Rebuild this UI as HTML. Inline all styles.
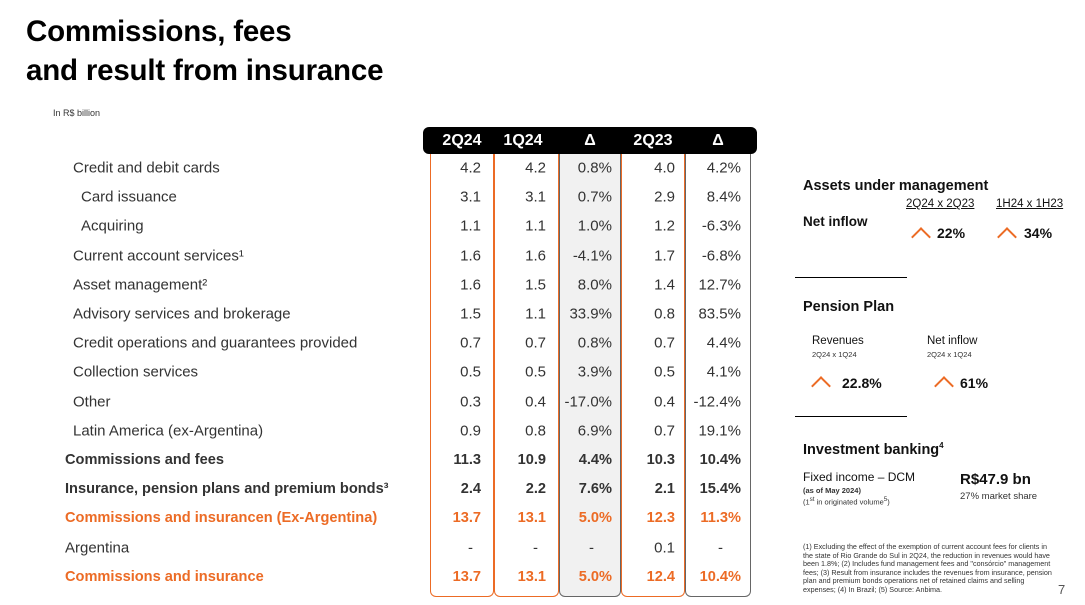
<!DOCTYPE html>
<html><head><meta charset="utf-8">
<style>
body{margin:0;width:1085px;height:605px;background:#fff;position:relative;overflow:hidden;font-family:"Liberation Sans",sans-serif;color:#333}
.a{position:absolute;white-space:nowrap}
.title{left:26px;font-size:29.5px;font-weight:bold;color:#000;letter-spacing:-0.2px;line-height:1}
.lbl{font-size:15px;transform:translateY(-50%)}
.v{font-size:15px;text-align:right;transform:translateY(-50%)}
.b{font-weight:bold;font-size:14.6px}
.o{color:#ec6b25}
.hdr{left:423px;top:127px;width:334px;height:27px;background:#000;border-radius:6px}
.h{color:#fff;font-weight:bold;font-size:16px;top:132px;text-align:center}
.box{position:absolute;top:154px;height:443px;box-sizing:border-box;border-radius:0 0 6px 6px}
.up{position:absolute;width:12px;height:12px;border-left:2px solid #ec6b25;border-top:2px solid #ec6b25;transform:rotate(45deg)}
</style></head><body>
<div class="a title" style="top:17px">Commissions, fees</div>
<div class="a title" style="top:56px">and result from insurance</div>
<div class="a" style="left:53px;top:108px;font-size:9px">In R$ billion</div>

<div class="box" style="left:430px;width:64px;border:1.5px solid #ec6b25;border-top:none"></div>
<div class="box" style="left:494px;width:65px;border:1.5px solid #ec6b25;border-top:none"></div>
<div class="box" style="left:559px;width:62px;border:1.5px solid #666;border-top:none;background:#f1f1f1"></div>
<div class="box" style="left:621px;width:64px;border:1.5px solid #ec6b25;border-top:none"></div>
<div class="box" style="left:685px;width:66px;border:1.5px solid #666;border-top:none"></div>
<div class="a hdr"></div>
<div class="a h" style="left:430px;width:64px">2Q24</div>
<div class="a h" style="left:494px;width:58px">1Q24</div>
<div class="a h" style="left:559px;width:62px">Δ</div>
<div class="a h" style="left:621px;width:64px">2Q23</div>
<div class="a h" style="left:685px;width:66px">Δ</div>
<div id="rows"></div>

<div class="a" style="left:803px;top:178px;font-size:14.5px;font-weight:bold;color:#111">Assets under management</div>
<div class="a" style="left:906px;top:198px;font-size:11.5px;text-decoration:underline;color:#111">2Q24 x 2Q23</div>
<div class="a" style="left:996px;top:198px;font-size:11.5px;text-decoration:underline;color:#111">1H24 x 1H23</div>
<div class="a" style="left:803px;top:214px;font-size:13.5px;font-weight:bold;color:#111">Net inflow</div>
<div class="up" style="left:914px;top:230px"></div>
<div class="a" style="left:937px;top:225px;font-size:14px;font-weight:bold;color:#111">22%</div>
<div class="up" style="left:1000px;top:230px"></div>
<div class="a" style="left:1024px;top:225px;font-size:14px;font-weight:bold;color:#111">34%</div>
<div class="a" style="left:795px;top:277px;width:112px;height:1px;background:#000"></div>

<div class="a" style="left:803px;top:299px;font-size:14.5px;font-weight:bold;color:#111">Pension Plan</div>
<div class="a" style="left:812px;top:335px;font-size:11.5px;color:#111">Revenues</div>
<div class="a" style="left:812px;top:350px;font-size:7.5px">2Q24 x 1Q24</div>
<div class="a" style="left:927px;top:335px;font-size:11.5px;color:#111">Net inflow</div>
<div class="a" style="left:927px;top:350px;font-size:7.5px">2Q24 x 1Q24</div>
<div class="up" style="left:814px;top:379px"></div>
<div class="a" style="left:842px;top:375px;font-size:14px;font-weight:bold;color:#111">22.8%</div>
<div class="up" style="left:937px;top:379px"></div>
<div class="a" style="left:960px;top:375px;font-size:14px;font-weight:bold;color:#111">61%</div>
<div class="a" style="left:795px;top:416px;width:112px;height:1px;background:#000"></div>

<div class="a" style="left:803px;top:441px;font-size:14.5px;font-weight:bold;color:#111">Investment banking<sup style="font-size:8px">4</sup></div>
<div class="a" style="left:803px;top:470px;font-size:12px;color:#111">Fixed income – DCM</div>
<div class="a" style="left:803px;top:486px;font-size:7.5px;font-weight:bold">(as of May 2024)</div>
<div class="a" style="left:803px;top:496px;font-size:7.5px">(1<sup>st</sup> in originated volume<sup>5</sup>)</div>
<div class="a" style="left:960px;top:471px;font-size:15px;font-weight:bold;color:#111">R$47.9 bn</div>
<div class="a" style="left:960px;top:491px;font-size:9.5px">27% market share</div>
<div class="a" style="left:803px;top:543px;font-size:7.2px;line-height:8.6px;white-space:normal;width:250px">(1) Excluding the effect of the exemption of current account fees for clients in the state of Rio Grande do Sul in 2Q24, the reduction in revenues would have been 1.8%; (2) Includes fund management fees and "consórcio" management fees; (3) Result from insurance includes the revenues from insurance, pension plan and premium bonds operations net of retained claims and selling expenses; (4) In Brazil; (5) Source: Anbima.</div>
<div class="a" style="left:1058px;top:582px;font-size:13px;color:#555">7</div>

<script>
const labels=["Credit and debit cards","Card issuance","Acquiring","Current account services¹","Asset management²","Advisory services and brokerage","Credit operations and guarantees provided","Collection services","Other","Latin America (ex-Argentina)","Commissions and fees","Insurance, pension plans and premium bonds³","Commissions and insurancen (Ex-Argentina)","Argentina","Commissions and insurance"];
const v2Q24=["4.2","3.1","1.1","1.6","1.6","1.5","0.7","0.5","0.3","0.9","11.3","2.4","13.7","-","13.7"];
const v1Q24=["4.2","3.1","1.1","1.6","1.5","1.1","0.7","0.5","0.4","0.8","10.9","2.2","13.1","-","13.1"];
const dQ=["0.8%","0.7%","1.0%","-4.1%","8.0%","33.9%","0.8%","3.9%","-17.0%","6.9%","4.4%","7.6%","5.0%","-","5.0%"];
const v2Q23=["4.0","2.9","1.2","1.7","1.4","0.8","0.7","0.5","0.4","0.7","10.3","2.1","12.3","0.1","12.4"];
const dY=["4.2%","8.4%","-6.3%","-6.8%","12.7%","83.5%","4.4%","4.1%","-12.4%","19.1%","10.4%","15.4%","11.3%","-","10.4%"];
const level=[1,2,2,1,1,1,1,1,1,1,0,0,0,0,0];
const style=["","","","","","","","","","","b","b","bo","","bo"];
const cols=[[v2Q24,481,"2q24"],[v1Q24,546,"1q24"],[dQ,612,"delta-q"],[v2Q23,675,"2q23"],[dY,741,"delta-y"]];
const root=document.getElementById('rows');
const y0=168,step=29.2;
labels.forEach((t,i)=>{
  const y=y0+i*step;
  const cls=style[i]==="b"?" b":style[i]==="bo"?" b o":"";
  const l=document.createElement('div');
  l.className="a lbl"+cls;
  l.style.left=[65,73,81][level[i]]+"px";l.style.top=y+"px";
  l.textContent=t;
  
  
  root.appendChild(l);
  cols.forEach(c=>{
    const d=document.createElement('div');
    const dash=c[0][i]==="-";
    d.className="a v"+cls;
    d.style.width="60px";d.style.left=(c[1]-60-(dash?(c[2].startsWith("delta")?18:8):0))+"px";d.style.top=y+"px";
    d.textContent=c[0][i];
    
    
    root.appendChild(d);
  });
});
</script>
</body></html>
